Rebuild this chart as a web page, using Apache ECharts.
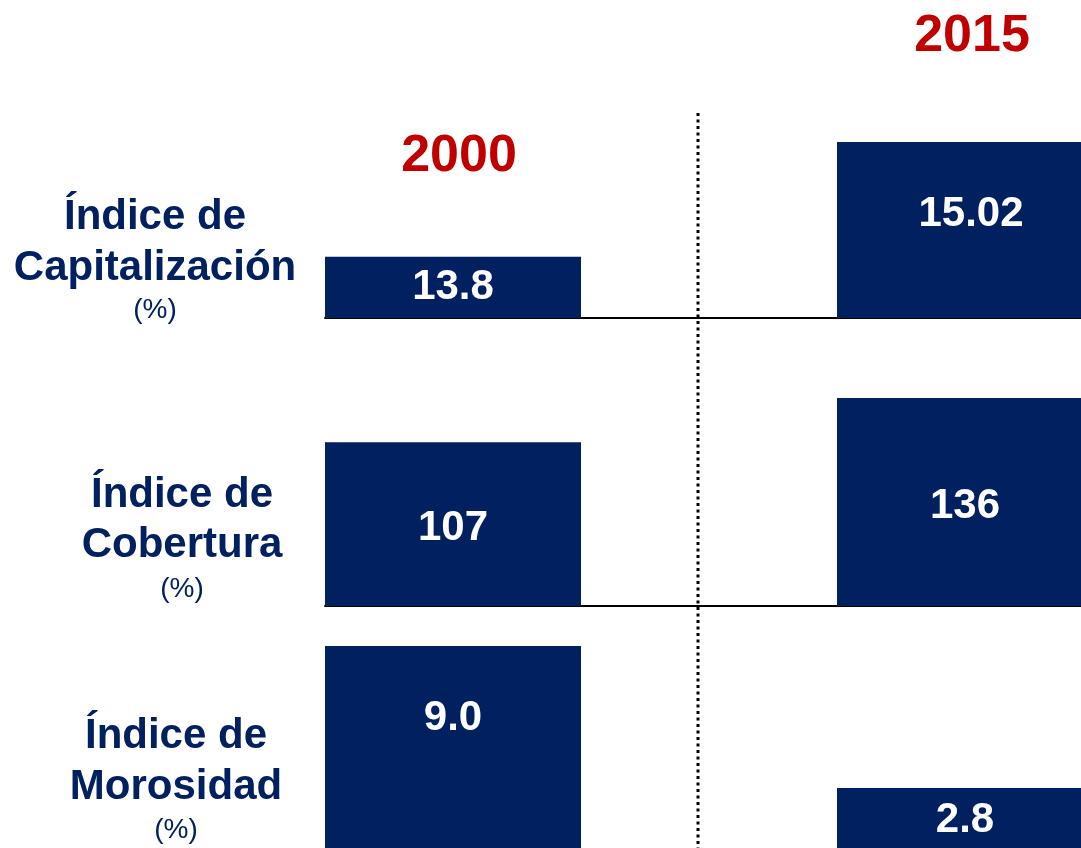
<!DOCTYPE html>
<html>
<head>
<meta charset="utf-8">
<script src="https://cdn.jsdelivr.net/npm/echarts@6/dist/echarts.min.js"></script>
<style>
  html, body { margin: 0; padding: 0; background: #fff; }
  #chart { width: 1081px; height: 848px; }
</style>
</head>
<body>
<div id="chart"></div>
<script>
// categories: middle one is an empty spacer between the two years
var years = ['2000', '', '2015'];
var capitalizacion = [13.8, '-', 15.02];
var cobertura = [107, '-', 136];
var morosidad = [9.0, '-', 2.8];
var rowTitles = [
    ['Índice de', 'Capitalización', '(%)'],
    ['Índice de', 'Cobertura', '(%)'],
    ['Índice de', 'Morosidad', '(%)']
];

var navy = '#002060';
var red = '#C00000';
var font = '"Liberation Sans", Arial, sans-serif';

var chart = echarts.init(document.getElementById('chart'));

// one grid per indicator, each with its own truncated value scale
// (the 2015 bars run past the right edge, as in the cropped slide)
var grids = [
    { left: 325, width: 768, top: 142, height: 176, outerBoundsMode: 'none' },
    { left: 325, width: 768, top: 398, height: 208, outerBoundsMode: 'none' },
    { left: 325, width: 768, top: 646, height: 206, outerBoundsMode: 'none' }
];
var yRanges = [
    { min: 13.15, max: 15.02 },
    { min: 0, max: 136 },
    { min: 0, max: 9 }
];

var xAxes = [], yAxes = [];
for (var i = 0; i < 3; i++) {
    xAxes.push({
        type: 'category', gridIndex: i, data: years,
        axisLine: { show: i < 2, onZero: false, lineStyle: { color: '#000', width: 2 } },
        axisTick: { show: false },
        axisLabel: { show: false }
    });
    yAxes.push({
        type: 'value', gridIndex: i, show: false,
        min: yRanges[i].min, max: yRanges[i].max,
        splitLine: { show: false }
    });
}

function barSeries(idx, data, fmt, offsets) {
    return {
        type: 'bar',
        xAxisIndex: idx, yAxisIndex: idx,
        data: data.map(function (v, k) {
            return {
                value: v,
                label: { offset: offsets[k] || [0, 0] }
            };
        }),
        barCategoryGap: '0%',
        itemStyle: { color: navy },
        label: {
            show: true, position: 'inside',
            color: '#fff', fontSize: 42, fontWeight: 'bold', fontFamily: font,
            formatter: function (p) { return fmt(p.value); }
        },
        silent: true
    };
}

var graphics = [
    {
        type: 'line', shape: { x1: 698, y1: 113, x2: 698, y2: 848 },
        style: { stroke: '#000', lineWidth: 3, lineDash: [3, 3.5] }
    },
    {
        type: 'text', x: 459, y: 157,
        style: { text: years[0], fill: red, font: 'bold 52px ' + font, textAlign: 'center', textVerticalAlign: 'middle' }
    },
    {
        type: 'text', x: 972, y: 37,
        style: { text: years[2], fill: red, font: 'bold 52px ' + font, textAlign: 'center', textVerticalAlign: 'middle' }
    }
];

var titlePos = [
    { x: 155, y: [217, 268, 310] },
    { x: 182, y: [495, 545, 589] },
    { x: 176, y: [736, 787, 830] }
];
rowTitles.forEach(function (lines, r) {
    lines.forEach(function (t, j) {
        graphics.push({
            type: 'text', x: titlePos[r].x, y: titlePos[r].y[j],
            style: {
                text: t, fill: navy,
                font: (j < 2 ? 'bold 42px ' : '28px ') + font,
                textAlign: 'center', textVerticalAlign: 'middle'
            }
        });
    });
});

var option = {
    animation: false,
    backgroundColor: '#fff',
    grid: grids,
    xAxis: xAxes,
    yAxis: yAxes,
    series: [
        barSeries(0, capitalizacion, function (v) { return String(v); }, { 2: [6, -16] }),
        barSeries(1, cobertura, function (v) { return String(v); }, { 0: [0, 4], 2: [0, 4] }),
        barSeries(2, morosidad, function (v) { return Number(v).toFixed(1); }, { 0: [0, -31] })
    ],
    graphic: graphics
};

chart.setOption(option);
window.onresize = chart.resize;
</script>
</body>
</html>
